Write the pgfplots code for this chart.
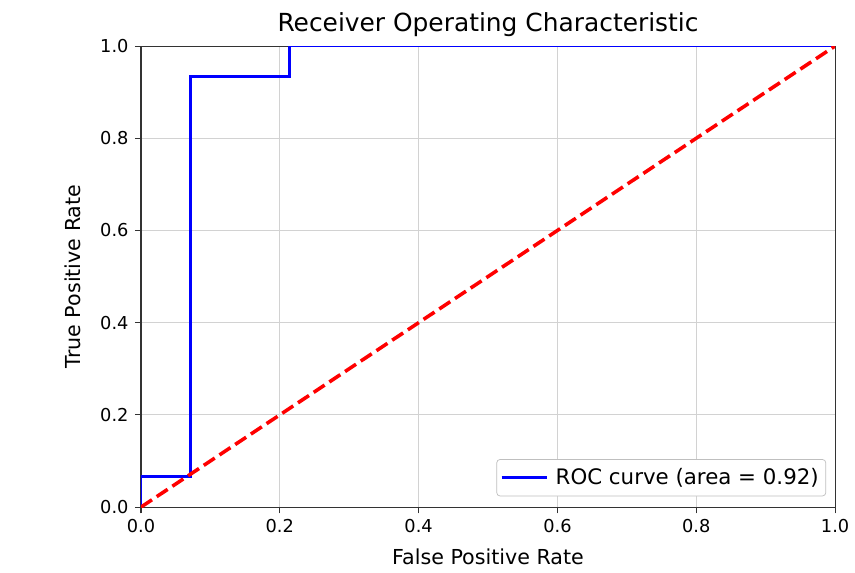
\documentclass[border=0pt]{standalone}
\usepackage{pgfplots}
\pgfplotsset{compat=1.18}
\usepackage{fontspec}
\setmainfont{DejaVu Sans}
\begin{document}
\begin{tikzpicture}
\useasboundingbox (-79.3pt,-36.6pt) rectangle (401.6pt,285.2pt);
\begin{axis}[
  scale only axis,
  width=390.4pt, height=259.3pt,
  at={(0,0)}, anchor=south west,
  xmin=0, xmax=1, ymin=0, ymax=1,
  xtick={0,0.2,...,1.0}, ytick={0,0.2,...,1.0},
  /pgf/number format/assume math mode=true,
  /pgf/number format/fixed, /pgf/number format/fixed zerofill, /pgf/number format/precision=1,
  tick label style={font=\fontsize{10}{12}\selectfont},
  label style={font=\fontsize{11.6}{14}\selectfont},
  xlabel style={yshift=-2pt},
  ylabel style={yshift=4pt},
  title style={font=\fontsize{14}{16}\selectfont, yshift=-4.5pt},
  title={Receiver Operating Characteristic},
  xlabel={False Positive Rate},
  ylabel={True Positive Rate},
  grid=major,
  major grid style={gray!35, line width=0.5pt},
  axis line style={black!80, line width=0.6pt},
  tick style={black!80, line width=0.6pt},
  tick align=outside,
  major tick length=3.5pt,
  xtick pos=bottom, ytick pos=left,
  legend style={at={(1,0)}, anchor=south east, xshift=-5pt, yshift=6pt,
    draw=black!25, rounded corners=2pt, font=\fontsize{12}{14}\selectfont,
    inner xsep=2pt, inner ysep=3pt},
  legend cell align=left,
  legend image code/.code={\draw[#1, line width=1.6pt] (0cm,0cm) -- (0.9cm,0cm);},
]
\addplot[blue, line width=1.6pt] coordinates {
  (0,0) (0,0.0667) (0.0714,0.0667) (0.0714,0.9333) (0.2143,0.9333) (0.2143,1) (1,1)};
\addlegendentry{\hspace{2pt}ROC curve (area = 0.92)}
\addplot[red, line width=2pt, dash pattern=on 7.4pt off 3.2pt, forget plot] coordinates {(0,0) (1,1)};
\end{axis}
\end{tikzpicture}
\end{document}
